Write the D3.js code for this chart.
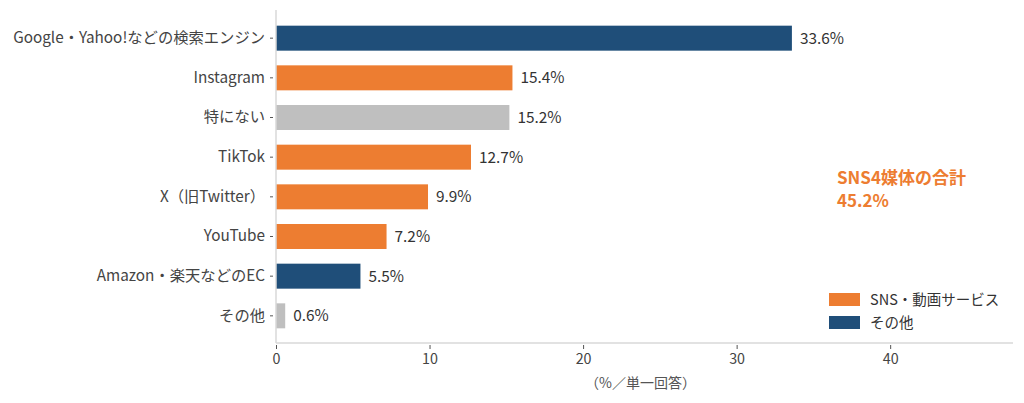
<!DOCTYPE html>
<html>
<head>
<meta charset="utf-8">
<script src="https://cdn.jsdelivr.net/npm/d3@7"></script>
<style>
  body { margin: 0; background: #fff; }
  svg { font-family: "Noto Sans CJK JP", "Noto Sans", sans-serif; }
</style>
</head>
<body>
<svg id="chart" width="1024" height="403"></svg>
<script>
// categories top to bottom, their share (%) and which group colours the bar
const categories = ["Google・Yahoo!などの検索エンジン", "Instagram", "特にない", "TikTok", "X（旧Twitter）", "YouTube", "Amazon・楽天などのEC", "その他"];
const values = [33.6, 15.4, 15.2, 12.7, 9.9, 7.2, 5.5, 0.6];
const groups = ["other", "sns", "none", "sns", "sns", "sns", "other", "none"];
const xTicks = [0, 10, 20, 30, 40];
const legendLabels = ["SNS・動画サービス", "その他"];
const legendGroups = ["sns", "other"];

const colour = { sns: "#ED7D31", other: "#1F4E79", none: "#BFBFBF" };

const svg = d3.select("#chart");
const plotLeft = 276, plotRight = 1013, plotTop = 11, plotBottom = 343;

let x = d3.scaleLinear().domain([0, 48]).range([plotLeft, plotRight]);
let y = d3.scaleBand().domain(categories).range([plotTop, plotBottom]).padding(0.37);

// bars
svg.selectAll("rect.bar")
  .data(values)
  .join("rect")
  .attr("class", "bar")
  .attr("x", x(0))
  .attr("y", (d, i) => y(categories[i]))
  .attr("width", d => x(d) - x(0))
  .attr("height", y.bandwidth())
  .attr("fill", (d, i) => colour[groups[i]]);

// value labels
svg.selectAll("text.val")
  .data(values)
  .join("text")
  .attr("class", "val")
  .attr("x", d => x(d) + 8)
  .attr("y", (d, i) => y(categories[i]) + y.bandwidth() / 2)
  .attr("dy", "0.35em")
  .attr("font-size", 15.4)
  .attr("fill", "#333")
  .text(d => d.toFixed(1) + "%");

// y axis
let yAxis = svg.append("g")
  .attr("transform", `translate(${plotLeft},0)`)
  .call(d3.axisLeft(y).tickSize(5).tickPadding(6));
yAxis.select(".domain").attr("stroke", "#d9d9d9").attr("stroke-width", 1.5)
  .attr("d", `M0,${plotTop - 1}V${plotBottom}`);
yAxis.selectAll(".tick line").attr("stroke", "#555").attr("x2", -6).attr("x1", -3);
yAxis.selectAll(".tick text").attr("font-size", 15.3).attr("fill", "#444")
  .attr("font-family", "'Noto Sans CJK JP', sans-serif");

// x axis
let xAxis = svg.append("g")
  .attr("transform", `translate(0,${plotBottom})`)
  .call(d3.axisBottom(x).tickValues(xTicks).tickSize(5).tickPadding(6));
xAxis.select(".domain").attr("stroke", "#d9d9d9").attr("stroke-width", 1.5)
  .attr("d", `M${plotLeft},0H${plotRight}`);
xAxis.selectAll(".tick line").attr("stroke", "#555").attr("y1", 2).attr("y2", 6);
xAxis.selectAll(".tick text").attr("font-size", 14.3).attr("fill", "#444")
  .attr("font-family", "'Noto Sans CJK JP', sans-serif");

svg.append("text")
  .attr("x", (plotLeft + plotRight) / 2 - 4)
  .attr("y", 388)
  .attr("text-anchor", "middle")
  .attr("font-size", 14)
  .attr("fill", "#555")
  .text("（%／単一回答）");

// annotation
svg.append("text")
  .attr("x", 837).attr("y", 184)
  .attr("font-size", 17).attr("font-weight", "bold").attr("fill", "#ED7D31")
  .text("SNS4媒体の合計");
svg.append("text")
  .attr("x", 837).attr("y", 207)
  .attr("font-size", 17).attr("font-weight", "bold").attr("fill", "#ED7D31")
  .text("45.2%");

// legend
let legend = svg.selectAll("g.legend")
  .data(legendLabels)
  .join("g")
  .attr("class", "legend")
  .attr("transform", (d, i) => `translate(829,${293 + i * 23})`);
legend.append("rect")
  .attr("width", 31).attr("height", 13)
  .attr("fill", (d, i) => colour[legendGroups[i]]);
legend.append("text")
  .attr("x", 41).attr("y", 6.5).attr("dy", "0.35em")
  .attr("font-size", 14.5).attr("fill", "#333")
  .text(d => d);
</script>
</body>
</html>
